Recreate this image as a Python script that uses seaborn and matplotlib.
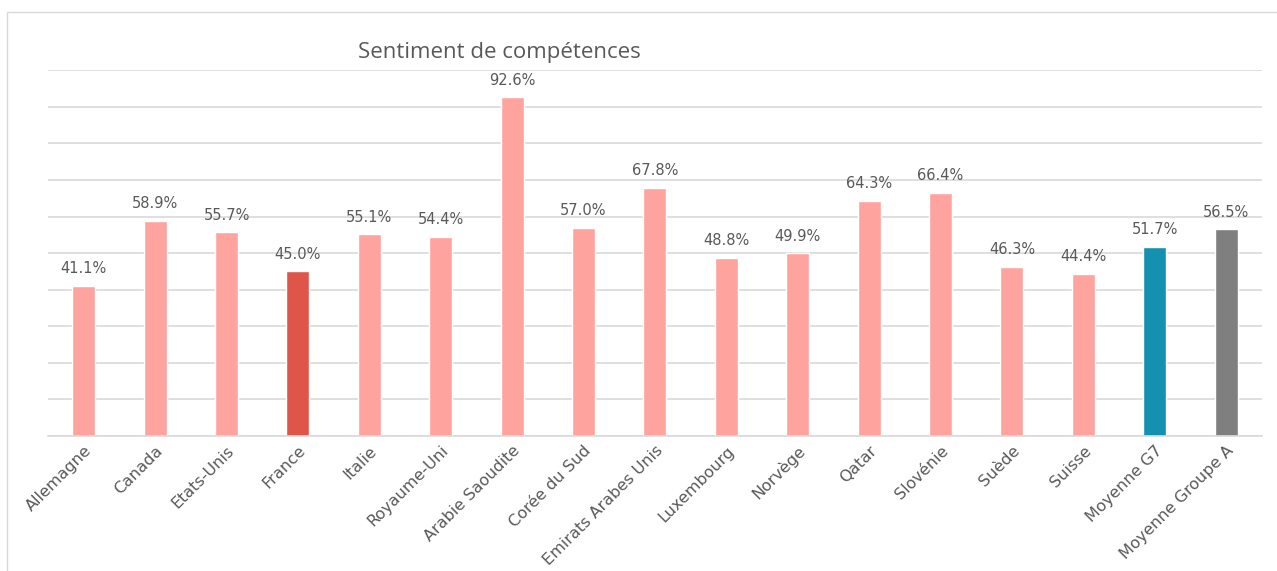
import matplotlib
matplotlib.use('Agg')
import matplotlib.pyplot as plt
import seaborn as sns
import pandas as pd
from matplotlib.patches import Rectangle

# Donnees
pays = ['Allemagne', 'Canada', 'Etats-Unis', 'France', 'Italie', 'Royaume-Uni',
        'Arabie Saoudite', 'Corée du Sud', 'Emirats Arabes Unis', 'Luxembourg',
        'Norvège', 'Qatar', 'Slovénie', 'Suède', 'Suisse', 'Moyenne G7',
        'Moyenne Groupe A']
valeurs = [41.1, 58.9, 55.7, 45.0, 55.1, 54.4, 92.6, 57.0, 67.8, 48.8,
           49.9, 64.3, 66.4, 46.3, 44.4, 51.7, 56.5]

rose = '#FFA39E'
couleurs = {p: rose for p in pays}
couleurs['France'] = '#E0554A'
couleurs['Moyenne G7'] = '#1491B0'
couleurs['Moyenne Groupe A'] = '#7F7F7F'

df = pd.DataFrame({'pays': pays, 'valeur': valeurs})

sns.set_style('white')
plt.rcParams['font.family'] = ['DejaVu Sans']
texte = '#595959'

fig = plt.figure(figsize=(12.77, 5.71), dpi=100)
ax = fig.add_axes([0.0376, 0.2364, 0.9505, 0.6406])

sns.barplot(data=df, x='pays', y='valeur', hue='pays', palette=couleurs,
            legend=False, width=0.32, ax=ax, saturation=1)

ax.set_ylim(0, 100)
ax.set_xlim(-0.5, len(pays) - 0.5)
ax.set_yticks(range(0, 101, 10))
ax.set_yticklabels([])
ax.tick_params(axis='y', length=0)
ax.tick_params(axis='x', length=0, pad=5)
ax.yaxis.grid(True, color='#D9D9D9', linewidth=1.2)
ax.set_axisbelow(True)
for s in ['top', 'right', 'left']:
    ax.spines[s].set_visible(False)
ax.spines['bottom'].set_color('#D9D9D9')
ax.spines['bottom'].set_linewidth(1.2)
ax.set_xlabel('')
ax.set_ylabel('')

ax.set_xticks(range(len(pays)))
ax.set_xticklabels(pays, rotation=45, ha='right', rotation_mode='anchor',
                   fontsize=11.5, color=texte)

for i, v in enumerate(valeurs):
    ax.annotate(f'{v:.1f}%', (i, v), xytext=(0, 7), textcoords='offset points',
                ha='center', va='bottom', fontsize=10.5, color=texte)

fig.text(0.28, 0.908, 'Sentiment de compétences', fontsize=16,
         color=texte, family=['Open Sans', 'DejaVu Sans'], va='center')

fig.patches.append(Rectangle((7 / 1277, -0.01), 1.02, 1 - 12 / 571 + 0.01,
                             transform=fig.transFigure, fill=False,
                             edgecolor='#D9D9D9', linewidth=1))

fig.savefig('out.png', dpi=100)
